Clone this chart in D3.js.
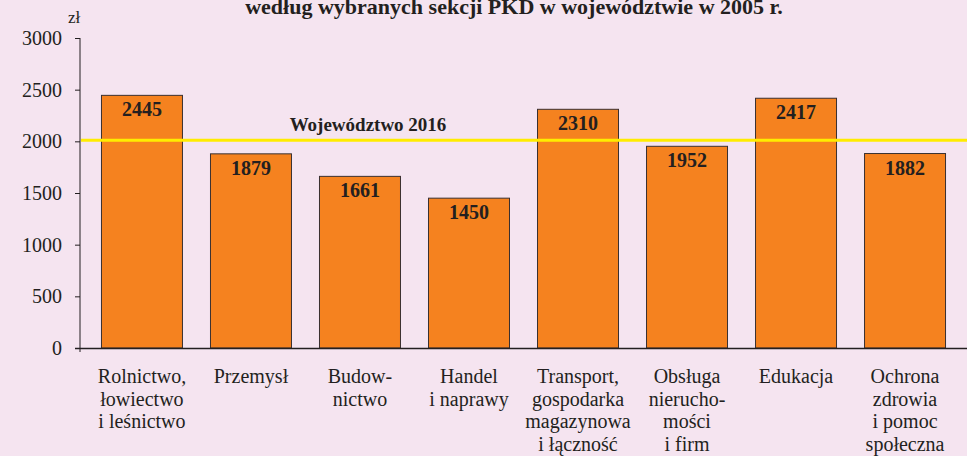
<!DOCTYPE html>
<html>
<head>
<meta charset="utf-8">
<script src="https://cdn.jsdelivr.net/npm/d3@7"></script>
</head>
<body style="margin:0; background:#f5e4f0;">
<div id="chart"></div>
<script>
// data
const categories = [
    ["Rolnictwo,", "łowiectwo", "i leśnictwo"],
    ["Przemysł"],
    ["Budow-", "nictwo"],
    ["Handel", "i naprawy"],
    ["Transport,", "gospodarka", "magazynowa", "i łączność"],
    ["Obsługa", "nierucho-", "mości", "i firm"],
    ["Edukacja"],
    ["Ochrona", "zdrowia", "i pomoc", "społeczna"]
];
const values = [2445, 1879, 1661, 1450, 2310, 1952, 2417, 1882];
const refValue = 2010;
const refLabel = "Województwo 2016";
const yTicks = [0, 500, 1000, 1500, 2000, 2500, 3000];
const title = "według wybranych sekcji PKD w województwie w 2005 r.";

const serif = "Liberation Serif";
const ink = "#231f20";

function drawChart() {
    const width = 967;
    const height = 456;

    const svg = d3.select("#chart")
        .append("svg")
        .attr("width", width)
        .attr("height", height)
        .style("display", "block");

    const x0 = 80, y0 = 348;

    const x = d3.scaleBand()
        .domain(d3.range(values.length))
        .range([x0, width])
        .paddingInner(0.257)
        .paddingOuter(0.197);

    const y = d3.scaleLinear()
        .domain([0, 3000])
        .range([y0, 38]);

    // title (top clipped, as in the source)
    svg.append("text")
        .attr("x", 514)
        .attr("y", 14)
        .attr("text-anchor", "middle")
        .attr("font-family", serif)
        .attr("font-weight", "bold")
        .attr("font-size", 22)
        .attr("fill", ink)
        .text(title);

    svg.append("text")
        .attr("x", 68)
        .attr("y", 23)
        .attr("font-family", serif)
        .attr("font-size", 17)
        .attr("fill", ink)
        .text("zł");

    // y axis
    const yAxis = svg.append("g")
        .attr("transform", "translate(" + x0 + ",0)")
        .call(d3.axisLeft(y).tickValues(yTicks).tickFormat(d3.format("d"))
            .tickSize(5).tickPadding(13).tickSizeOuter(0));
    yAxis.attr("font-family", serif).attr("font-size", 20);
    yAxis.select(".domain").attr("stroke", ink).attr("d", "M0," + y(3000) + "V" + (y0 + 4));
    yAxis.selectAll(".tick line").attr("stroke", ink);
    yAxis.selectAll(".tick text")
        .attr("font-family", serif)
        .attr("font-size", 20)
        .attr("fill", ink);

    // bars
    svg.append("g")
        .selectAll("rect")
        .data(values)
        .join("rect")
        .attr("x", (d, i) => x(i))
        .attr("y", d => y(d))
        .attr("width", x.bandwidth())
        .attr("height", d => y0 - y(d))
        .attr("fill", "#f5821f")
        .attr("stroke", "#3a3030")
        .attr("stroke-width", 1);

    // x axis line
    svg.append("line")
        .attr("x1", x0 - 5)
        .attr("x2", width)
        .attr("y1", y0 + 0.5)
        .attr("y2", y0 + 0.5)
        .attr("stroke", ink)
        .attr("stroke-width", 1.5);

    // bar value labels
    svg.append("g")
        .selectAll("text")
        .data(values)
        .join("text")
        .attr("x", (d, i) => x(i) + x.bandwidth() / 2)
        .attr("y", d => y(d) + 21)
        .attr("text-anchor", "middle")
        .attr("font-family", serif)
        .attr("font-weight", "bold")
        .attr("font-size", 20)
        .attr("fill", ink)
        .text(d => d);

    // reference line
    svg.append("line")
        .attr("x1", x0 + 1)
        .attr("x2", width)
        .attr("y1", y(refValue))
        .attr("y2", y(refValue))
        .attr("stroke", "#ffec00")
        .attr("stroke-width", 3);

    svg.append("text")
        .attr("x", 368)
        .attr("y", y(refValue) - 9)
        .attr("text-anchor", "middle")
        .attr("font-family", serif)
        .attr("font-weight", "bold")
        .attr("font-size", 19)
        .attr("fill", ink)
        .text(refLabel);

    // category labels
    const cat = svg.append("g")
        .selectAll("text")
        .data(categories)
        .join("text")
        .attr("x", (d, i) => x(i) + x.bandwidth() / 2)
        .attr("y", 383)
        .attr("text-anchor", "middle")
        .attr("font-family", serif)
        .attr("font-size", 20)
        .attr("fill", ink);

    cat.selectAll("tspan")
        .data(d => d)
        .join("tspan")
        .attr("x", function () { return this.parentNode.getAttribute("x"); })
        .attr("dy", (d, i) => i === 0 ? 0 : 22.7)
        .text(d => d);
}
drawChart();
</script>
</body>
</html>
